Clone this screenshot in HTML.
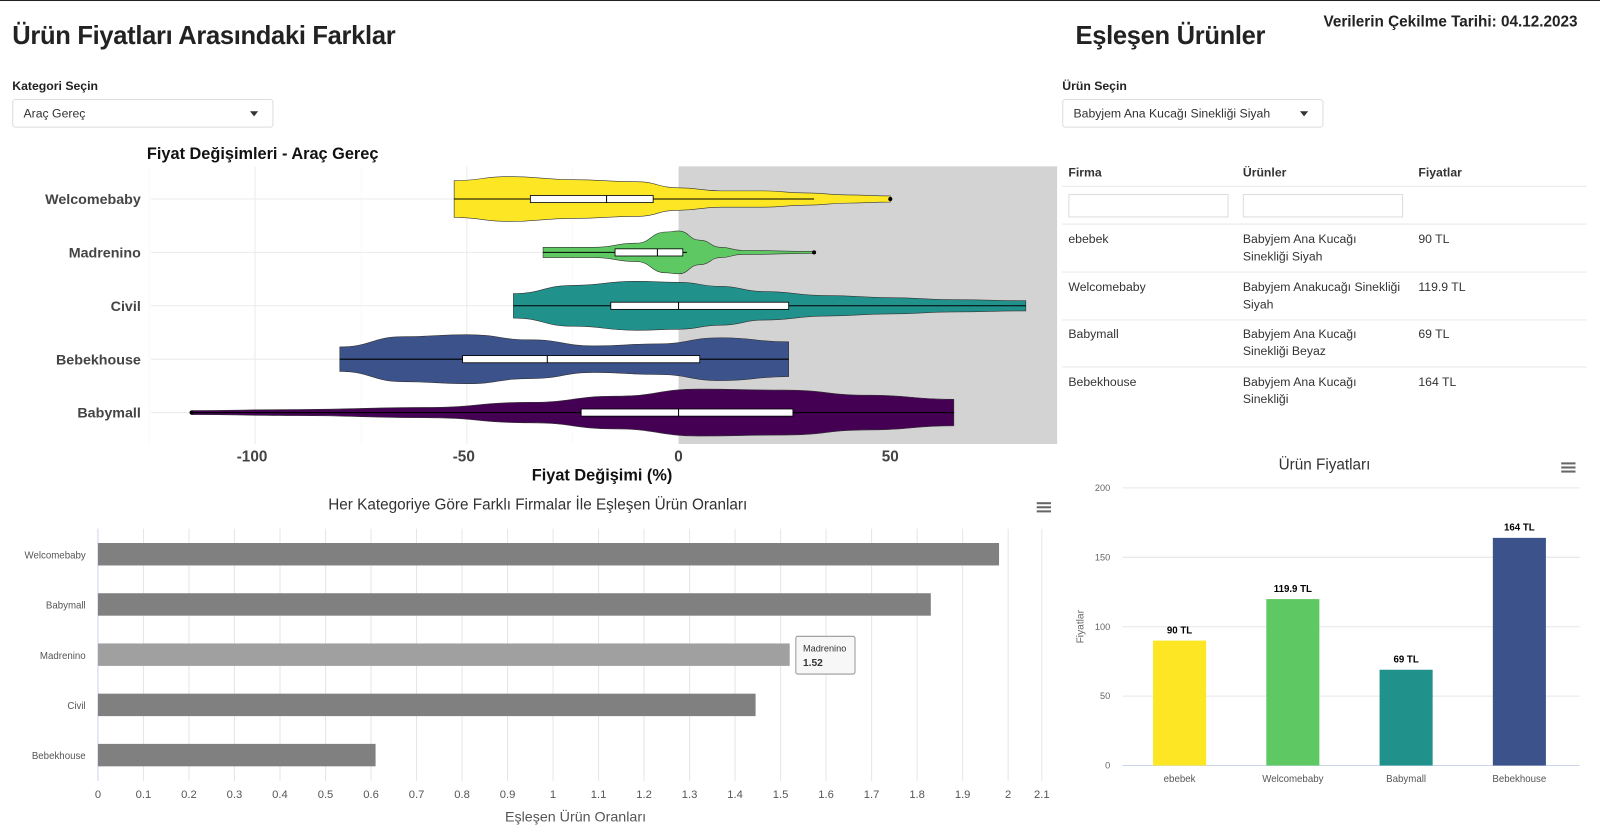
<!DOCTYPE html>
<html><head><meta charset="utf-8">
<style>
html,body{margin:0;padding:0;width:1600px;height:839px;overflow:hidden;background:#fff;font-family:"Liberation Sans",sans-serif}
#wrap{position:absolute;left:0;top:0;width:1568px;height:822px;transform:scale(1.0204,1.0207);transform-origin:0 0;background:#fff}
.abs{position:absolute;white-space:nowrap}
.sel{position:absolute;border:1px solid #ddd;border-radius:3px;background:#fff;font-size:12px;color:#333;box-sizing:border-box;padding:6px 10px}
.caret{position:absolute;right:14px;top:11px;width:0;height:0;border-left:4px solid transparent;border-right:4px solid transparent;border-top:5px solid #333}
.th{font-size:12px;font-weight:bold;color:#333}
.td{font-size:12px;color:#333;line-height:17px}
.inp{position:absolute;border:1px solid #ddd;height:23px;width:157px;box-sizing:border-box;background:#fff}
.hr{position:absolute;left:1041px;width:514px;height:1px;background:#e8e8e8}
</style></head><body>
<div id="wrap">
<div style="position:absolute;left:0;top:0;width:1568px;height:1px;background:#222"></div>
<div class="abs" style="left:12px;top:21px;font-size:25px;font-weight:bold;color:#222;letter-spacing:-0.3px">Ürün Fiyatları Arasındaki Farklar</div>
<div class="abs" style="left:1054px;top:21px;font-size:25px;font-weight:bold;color:#222;letter-spacing:-0.3px">Eşleşen Ürünler</div>
<div class="abs" style="left:1297px;top:13px;font-size:15px;font-weight:bold;color:#222">Verilerin Çekilme Tarihi: 04.12.2023</div>
<div class="abs" style="left:12px;top:77px;font-size:12px;font-weight:bold;color:#222">Kategori Seçin</div>
<div class="sel" style="left:12px;top:97px;width:256px;height:28px">Araç Gereç<span class="caret"></span></div>
<div class="abs" style="left:1041px;top:77px;font-size:12px;font-weight:bold;color:#222">Ürün Seçin</div>
<div class="sel" style="left:1041px;top:97px;width:256px;height:28px">Babyjem Ana Kucağı Sinekliği Siyah<span class="caret"></span></div>

<div>
<div class="abs th" style="left:1047px;top:162px">Firma</div>
<div class="abs th" style="left:1218px;top:162px">Ürünler</div>
<div class="abs th" style="left:1390px;top:162px">Fiyatlar</div>
<div class="hr" style="top:182px"></div>
<div class="inp" style="left:1047px;top:190px"></div>
<div class="inp" style="left:1218px;top:190px"></div>
<div class="hr" style="top:219px"></div>
<div class="abs td" style="left:1047px;top:226px">ebebek</div><div class="abs td" style="left:1218px;top:226px">Babyjem Ana Kucağı<br>Sinekliği Siyah</div><div class="abs td" style="left:1390px;top:226px">90 TL</div>
<div class="hr" style="top:266px"></div>
<div class="abs td" style="left:1047px;top:273px">Welcomebaby</div><div class="abs td" style="left:1218px;top:273px">Babyjem Anakucağı Sinekliği<br>Siyah</div><div class="abs td" style="left:1390px;top:273px">119.9 TL</div>
<div class="hr" style="top:313px"></div>
<div class="abs td" style="left:1047px;top:319px">Babymall</div><div class="abs td" style="left:1218px;top:319px">Babyjem Ana Kucağı<br>Sinekliği Beyaz</div><div class="abs td" style="left:1390px;top:319px">69 TL</div>
<div class="hr" style="top:359px"></div>
<div class="abs td" style="left:1047px;top:366px">Bebekhouse</div><div class="abs td" style="left:1218px;top:366px">Babyjem Ana Kucağı<br>Sinekliği</div><div class="abs td" style="left:1390px;top:366px">164 TL</div>
</div>

<svg id="svg" width="1568" height="822" style="position:absolute;left:0;top:0" font-family="Liberation Sans, sans-serif"></svg>
</div>
<script>
// ---------- Violin chart data ----------
const vGroups = ['Welcomebaby','Madrenino','Civil','Bebekhouse','Babymall'];
const vColors = ['#fde725','#5ec962','#21918c','#3b528b','#440154'];
const vXTicks = [-100,-50,0,50];
const vDensX = [
 [-53,-40,-25,-10,0,10,20,30,40,50],
 [-32,-20,-10,-3,0,5,10,15,32],
 [-39,-25,-10,0,10,20,35,50,65,82],
 [-80,-65,-50,-35,-20,-5,10,26],
 [-115,-90,-60,-35,-15,5,25,45,65]
];
const vDensW = [
 [18,22,19,17,11,8,8,6,4,3],
 [5,5,9,20,21,12,5,2,1],
 [12,20,24,23,19,14,10,8,6,5],
 [12,22,24,19,13,15,21,17],
 [2,3,5,10,16,23,22,17,13]
];
const vBoxQ1 = [-35,-15,-16,-51,-23];
const vBoxMed = [-17,-5,0,-31,0];
const vBoxQ3 = [-6,1,26,5,27];
const vWhiskLo = [-53,-32,-39,-80,-115];
const vWhiskHi = [32,2,82,26,65];
const vOutliers = [[50],[32],[],[],[-115]];

// ---------- Horizontal bar data ----------
const hCats = ['Welcomebaby','Babymall','Madrenino','Civil','Bebekhouse'];
const hVals = [1.98,1.83,1.52,1.445,0.61];
const hTicks = [0,0.1,0.2,0.3,0.4,0.5,0.6,0.7,0.8,0.9,1,1.1,1.2,1.3,1.4,1.5,1.6,1.7,1.8,1.9,2,2.1];

// ---------- Price bar data ----------
const pCats = ['ebebek','Welcomebaby','Babymall','Bebekhouse'];
const pVals = [90,119.9,69,164];
const pLabels = ['90 TL','119.9 TL','69 TL','164 TL'];
const pColors = ['#fde725','#5ec962','#21918c','#3b528b'];
const pTicks = [0,50,100,150,200];

const svg = document.getElementById('svg');
const NS='http://www.w3.org/2000/svg';
function mk(tag, attrs, parent){const e=document.createElementNS(NS,tag);for(const k in attrs)e.setAttribute(k,attrs[k]);(parent||svg).appendChild(e);return e;}
function txt(s, attrs, parent){const e=mk('text',attrs,parent);e.textContent=s;return e;}

// ===== Violin =====
(function(){
 const g=mk('g',{});
 
 
 const px0=148, px1=1036, py0=163, py1=435;
 const xs=v=>665+v*4.15;
 const ys=i=>195+i*52.3;
 mk('rect',{x:xs(0),y:py0,width:px1-xs(0),height:py1-py0,fill:'#d3d3d3'},g);
 [-125,-75,-25].forEach(v=>mk('line',{x1:xs(v),x2:xs(v),y1:py0,y2:py1,stroke:'#f5f5f5','stroke-width':0.6},g));
 [-100,-50].forEach(v=>mk('line',{x1:xs(v),x2:xs(v),y1:py0,y2:py1,stroke:'#ebebeb','stroke-width':1},g));
 vGroups.forEach((n,i)=>mk('line',{x1:px0,x2:xs(0),y1:ys(i),y2:ys(i),stroke:'#ebebeb','stroke-width':1},g));
 txt('Fiyat Değişimleri - Araç Gereç',{x:144,y:156,'font-size':16,'font-weight':'bold',fill:'#111'},g);
 vGroups.forEach((n,i)=>{
  const cy=ys(i), X=vDensX[i], W=vDensW[i];
  let d='M'+xs(X[0])+','+(cy-W[0]);
  for(let k=1;k<X.length;k++){const xm=(xs(X[k-1])+xs(X[k]))/2;d+=' C'+xm+','+(cy-W[k-1])+' '+xm+','+(cy-W[k])+' '+xs(X[k])+','+(cy-W[k]);}
  d+=' L'+xs(X[X.length-1])+','+(cy+W[W.length-1]);
  for(let k=X.length-2;k>=0;k--){const xm=(xs(X[k+1])+xs(X[k]))/2;d+=' C'+xm+','+(cy+W[k+1])+' '+xm+','+(cy+W[k])+' '+xs(X[k])+','+(cy+W[k]);}
  d+='Z';
  const p=mk('path',{d:d,fill:vColors[i],stroke:'#333','stroke-width':0.6},g);
  
  
  mk('line',{x1:xs(vWhiskLo[i]),x2:xs(vWhiskHi[i]),y1:cy,y2:cy,stroke:'#000','stroke-width':1},g);
  const b=mk('rect',{x:xs(vBoxQ1[i]),y:cy-3.5,width:xs(vBoxQ3[i])-xs(vBoxQ1[i]),height:7,fill:'#fff',stroke:'#000','stroke-width':0.8},g);
  
  
  mk('line',{x1:xs(vBoxMed[i]),x2:xs(vBoxMed[i]),y1:cy-3.5,y2:cy+3.5,stroke:'#000','stroke-width':1},g);
  vOutliers[i].forEach(o=>mk('circle',{cx:xs(o),cy:cy,r:2,fill:'#000'},g));
  const t=txt(n,{x:138,y:cy+5,'text-anchor':'end','font-size':14,'font-weight':'bold',fill:'#444'},g);
  
  
 });
 vXTicks.forEach(v=>{const t=txt(String(v),{x:xs(v)-(v<0?3:0),y:452,'text-anchor':'middle','font-size':15,'font-weight':'bold',fill:'#444'},g);
  
  });
 const at=txt('Fiyat Değişimi (%)',{x:590,y:471,'text-anchor':'middle','font-size':16,'font-weight':'bold',fill:'#111'},g);
 
 
})();

// ===== Horizontal bars =====
(function(){
 const g=mk('g',{});
 
 
 const xs=v=>96+v*446;
 const ys=i=>543+i*49.2;
 const top=518, bot=765;
 txt('Her Kategoriye Göre Farklı Firmalar İle Eşleşen Ürün Oranları',{x:527,y:499,'text-anchor':'middle','font-size':15,fill:'#333'},g);
 const menu=mk('g',{},g);
 
 
 [0,4,8].forEach(o=>mk('rect',{x:1016,y:492+o,width:14,height:2,fill:'#666'},menu));
 hTicks.forEach(v=>{const X=Math.min(xs(v),1021);mk('line',{x1:X,x2:X,y1:top,y2:bot,stroke:'#e6e6e6','stroke-width':1},g);
  const t=txt(String(v),{x:X,y:782,'text-anchor':'middle','font-size':11,fill:'#555'},g);
  
  });
 mk('line',{x1:96,x2:96,y1:top,y2:bot,stroke:'#ccd6eb'},g);
 hCats.forEach((c,i)=>{
  const r=mk('rect',{x:96,y:ys(i)-11,width:xs(hVals[i])-96,height:22,fill:i===2?'#a0a0a0':'#808080'},g);
  
  
  txt(c,{x:84,y:ys(i)+4,'text-anchor':'end','font-size':9.5,fill:'#555'},g);
 });
 txt('Eşleşen Ürün Oranları',{x:564,y:805,'text-anchor':'middle','font-size':14,fill:'#555'},g);
 const ti=2, tx=xs(hVals[ti]);
 const tt=mk('g',{},g);
 
 
 mk('rect',{x:tx+6,y:ys(ti)-18,width:58,height:37,fill:'#f7f7f7',stroke:'#999',rx:2},tt);
 txt(hCats[ti],{x:tx+13,y:ys(ti)-3,'font-size':9,fill:'#333'},tt);
 txt(String(hVals[ti]),{x:tx+13,y:ys(ti)+11,'font-size':10,'font-weight':'bold',fill:'#333'},tt);
})();

// ===== Price bars =====
(function(){
 const g=mk('g',{});
 
 
 const ys=v=>750-v*1.36;
 const xs=i=>1156+i*111;
 txt('Ürün Fiyatları',{x:1298,y:460,'text-anchor':'middle','font-size':15,fill:'#333'},g);
 const menu=mk('g',{},g);
 
 
 [0,4,8].forEach(o=>mk('rect',{x:1530,y:453+o,width:14,height:2,fill:'#666'},menu));
 pTicks.forEach(v=>{mk('line',{x1:1100,x2:1548,y1:ys(v),y2:ys(v),stroke:v===0?'#ccd6eb':'#e6e6e6'},g);
  const t=txt(String(v),{x:1088,y:ys(v)+3,'text-anchor':'end','font-size':9,fill:'#666'},g);
  
  });
 const yt=txt('Fiyatlar',{x:0,y:0,'text-anchor':'middle','font-size':10,fill:'#666',transform:'translate(1062,614) rotate(-90)'},g);
 
 
 pCats.forEach((c,i)=>{
  const r=mk('rect',{x:xs(i)-26,y:ys(pVals[i]),width:52,height:ys(0)-ys(pVals[i]),fill:pColors[i]},g);
  
  
  txt(pLabels[i],{x:xs(i),y:ys(pVals[i])-7,'text-anchor':'middle','font-size':9.5,'font-weight':'bold',fill:'#000'},g);
  txt(c,{x:xs(i),y:766,'text-anchor':'middle','font-size':9.5,fill:'#555'},g);
 });
})();
</script>
</body></html>
